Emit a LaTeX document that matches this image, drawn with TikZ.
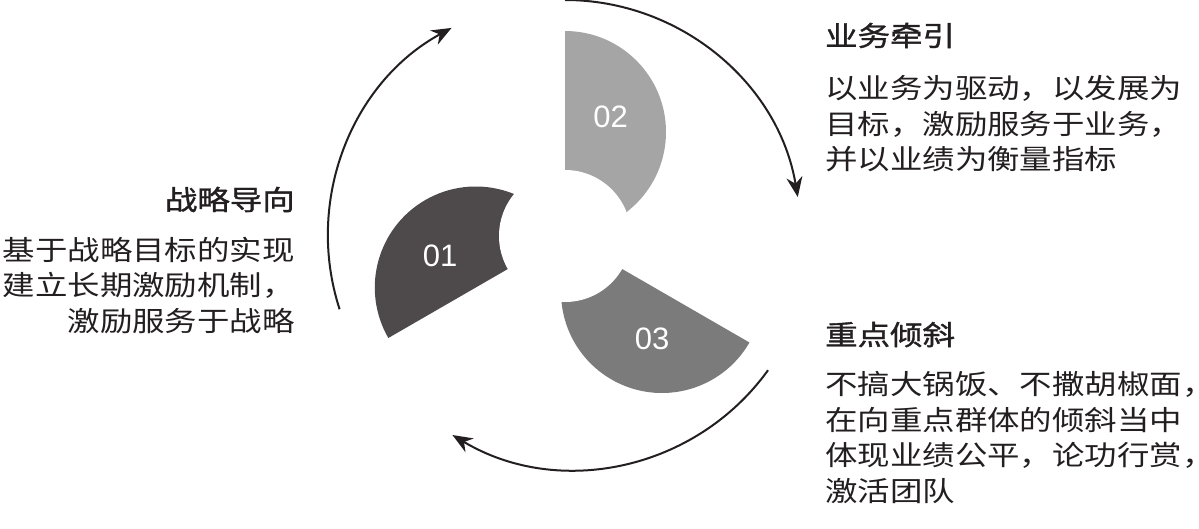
\documentclass[tikz,border=0pt]{standalone}
\usepackage{fontspec}
\usetikzlibrary{arrows.meta,positioning,calc}
\setsansfont{Liberation Sans}
\newfontfamily\cjk[FakeStretch=1.18]{Noto Sans CJK SC}
\newfontfamily\cjkh[FakeStretch=1.18,FakeBold=1.3]{Noto Sans CJK SC}
\definecolor{bDark}{RGB}{78,74,75}
\definecolor{bMid}{RGB}{124,123,123}
\definecolor{bLight}{RGB}{166,165,165}
\definecolor{tInk}{RGB}{35,31,32}

\begin{document}
\begin{tikzpicture}[x=1pt,y=1pt,
  hd/.style={font=\cjkh\fontsize{27.5}{35.5}\selectfont,text=tInk,inner sep=0pt},
  tx/.style={font=\cjk\fontsize{27.5}{35.5}\selectfont,text=tInk,inner sep=0pt},
  nr/.style={font=\sffamily\fontsize{31}{31}\selectfont,text=white,inner sep=0pt},
  a/.style={-{Stealth[length=20pt,width=16pt]},line width=2pt,tInk}]
  \useasboundingbox (0,0) rectangle (1199,528);
  \coordinate (C) at (565,292);
  \coordinate (Cr) at (575,297);
  % three blades
  \foreach \d/\o/\c/\n in {210/2/bDark/01,90/3/bLight/02,-30/11/bMid/03}{
    \fill[\c] (C) ++(\d:\o+202) arc[start angle=\d,end angle=\d-180,radius=101] -- cycle;
    \node[nr] (n\n) at ($(C)+(\d:\o+101)+(\d-72:48)$) {\n};
  }
  \fill[white] (C) circle[radius=66];
  % cycle arrows
  \draw[a] (C) ++(198:237) arc[start angle=198,end angle=118.6,radius=237];
  \draw[a] (C) ++(90:236) arc[start angle=90,end angle=9.5,radius=236];
  \draw[a] (Cr) ++(-35.8:238) arc[start angle=-35.8,end angle=-121,radius=238];
  % texts
  \node[hd,anchor=base east] (h1) at (295,318) {战略导向};
  \node[tx,anchor=base east,align=right] (t1) at (295,197)
    {基于战略目标的实现\\建立长期激励机制，\\激励服务于战略};
  \node[hd,anchor=base west] (h2) at (825,482) {业务牵引};
  \node[tx,anchor=base west,align=left] (t2) at (825,358)
    {以业务为驱动，以发展为\\目标，激励服务于业务，\\并以业绩为衡量指标};
  \node[hd,anchor=base west] (h3) at (825,183) {重点倾斜};
  \node[tx,anchor=base west,align=left] (t3) at (825,27)
    {不搞大锅饭、不撒胡椒面，\\在向重点群体的倾斜当中\\体现业绩公平，论功行赏，\\激活团队};
\end{tikzpicture}
\end{document}
